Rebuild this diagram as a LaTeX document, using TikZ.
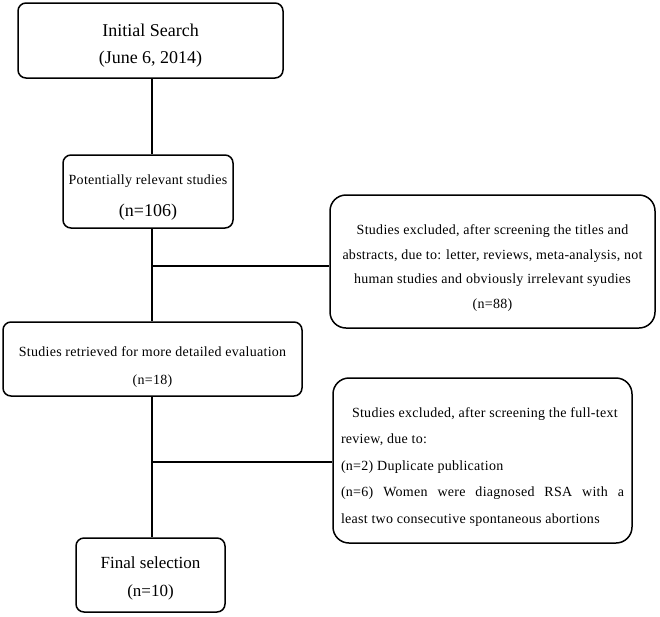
\documentclass[tikz,border=0pt]{standalone}
\usepackage{fontspec}
\setmainfont{Liberation Serif}
\newfontfamily\spaced[LetterSpace=2]{Liberation Serif}
\begin{document}
\begin{tikzpicture}[x=1pt,y=-1pt,
  box/.style={draw,line width=1.5pt,rounded corners=8pt,inner sep=0pt,fill=white},
  bigbox/.style={box,rounded corners=16pt},
  txt/.style={align=center,inner sep=0pt},
  conn/.style={line width=1.5pt}]
\useasboundingbox (0,0) rectangle (660,616);
% boxes
\node[box,minimum width=265pt,minimum height=75pt] (init) at (150.5,40.5) {};
\node[box,minimum width=170pt,minimum height=73pt] (pot) at (148,191.5) {};
\node[bigbox,minimum width=325pt,minimum height=133pt] (exc1) at (492.5,261.5) {};
\node[box,minimum width=299pt,minimum height=74pt] (ret) at (152.5,359) {};
\node[bigbox,minimum width=299pt,minimum height=165pt] (exc2) at (482.5,460.5) {};
\node[box,minimum width=149pt,minimum height=74pt] (final) at (150.5,575) {};
% texts
\node[txt,font=\fontsize{18}{27}\selectfont] (initT) at ([yshift=-5pt]init.center)
  {Initial Search\\(June 6, 2014)};
\node[txt] (potT) at ([yshift=-6pt]pot.center)
  {{\spaced\fontsize{14}{16}\selectfont Potentially relevant studies}\\[16pt]
   {\fontsize{18}{20}\selectfont (n=106)}};
\node[txt,font=\spaced\fontsize{14}{24.5}\selectfont] (exc1T) at ([yshift=-6.5pt]exc1.center)
  {Studies excluded, after screening the titles and\\
   abstracts, due to: letter, reviews, meta-analysis, not\\
   human studies and obviously irrelevant syudies\\
   (n=88)};
\node[txt,font=\spaced\fontsize{14}{28}\selectfont] (retT) at ([yshift=-8.5pt]ret.center)
  {Studies retrieved for more detailed evaluation\\(n=18)};
\node[txt,align=left,font=\spaced\fontsize{14}{26.5}\selectfont] (exc2T) at ([yshift=-6.5pt]exc2.center)
  {\hspace*{11pt}Studies excluded, after screening the full-text\\
   review, due to:\\
   (n=2) Duplicate publication\\
   \makebox[283pt][s]{(n=6) Women were diagnosed RSA with a}\\
   least two consecutive spontaneous abortions};
\node[txt,font=\fontsize{17}{28}\selectfont] (finalT) at ([yshift=-3.5pt]final.center)
  {Final selection\\(n=10)};
% connectors
\coordinate (b1) at (152,266);
\coordinate (b2) at (152,462);
\draw[conn] (init.south -| b1) -- (pot.north -| b1);
\draw[conn] (pot.south -| b1) -- (ret.north -| b1);
\draw[conn] (ret.south -| b1) -- (final.north -| b1);
\draw[conn] (b1) -- (b1 -| exc1.west);
\draw[conn] (b2) -- (b2 -| exc2.west);
\end{tikzpicture}
\end{document}
